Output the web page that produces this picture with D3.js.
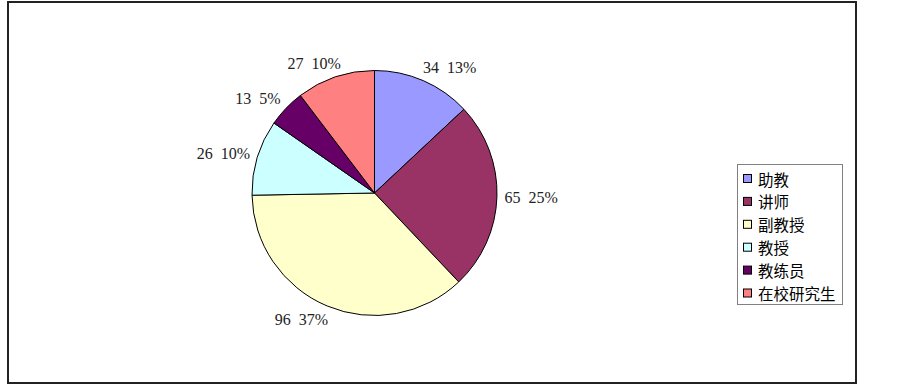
<!DOCTYPE html>
<html>
<head>
<meta charset="utf-8">
<script src="https://cdn.jsdelivr.net/npm/d3@7"></script>
<style>
  body { margin: 0; background: #fff; }
  svg { display: block; }
  text.lbl { white-space: pre; }
</style>
</head>
<body>
<div id="chart"></div>
<script>
// categories and values
var categories = ['助教', '讲师', '副教授', '教授', '教练员', '在校研究生'];
var counts = [34, 65, 96, 26, 13, 27];
var colors = ['#9999FF', '#993366', '#FFFFCC', '#CCFFFF', '#660066', '#FF8080'];

var width = 903,
    height = 386,
    cx = 374.5,
    cy = 193,
    radius = 122.5;

var svg = d3.select('#chart').append('svg')
    .attr('width', width)
    .attr('height', height);

// outer frame
svg.append('rect')
    .attr('x', 8).attr('y', 2)
    .attr('width', 848).attr('height', 381)
    .attr('fill', 'none')
    .attr('stroke', '#222')
    .attr('stroke-width', 2);

var total = d3.sum(counts);

var pie = d3.pie().sort(null).value(d => d);
var arcs = pie(counts);

var arc = d3.arc().innerRadius(0).outerRadius(radius);

var g = svg.append('g').attr('transform', 'translate(' + cx + ',' + cy + ')');

g.selectAll('path')
    .data(arcs)
    .enter()
    .append('path')
    .attr('d', arc)
    .attr('fill', (d, i) => colors[i])
    .attr('stroke', '#000')
    .attr('stroke-width', 1);

// labels outside the pie, box touching a point on the mid angle
var labelR = 130, lh = 14;
g.selectAll('text.lbl')
    .data(arcs)
    .enter()
    .append('text')
    .attr('class', 'lbl')
    .attr('font-family', '"Liberation Serif", serif')
    .attr('font-size', 16)
    .attr('fill', '#222')
    .attr('dominant-baseline', 'central')
    .text(d => d.data + '  ' + Math.round(d.data / total * 100) + '%')
    .each(function(d) {
      var a = (d.startAngle + d.endAngle) / 2;
      var s = Math.sin(a), c = Math.cos(a);
      var px = labelR * s, py = -labelR * c;
      var w = this.getComputedTextLength();
      var fx = Math.max(0, Math.min(1, 0.5 - 1.1 * s));
      var fy = (1 + c) / 2;
      d3.select(this)
        .attr('x', px - fx * w)
        .attr('y', py - fy * lh + lh / 2);
    });

// legend
var legend = svg.append('g');
legend.append('rect')
    .attr('x', 737.5).attr('y', 164.5)
    .attr('width', 105).attr('height', 140)
    .attr('fill', '#fff')
    .attr('stroke', '#808080');

var rowY = d3.scalePoint().domain(categories).range([178.5, 293]);

var items = legend.selectAll('g.item')
    .data(categories)
    .enter()
    .append('g')
    .attr('class', 'item')
    .attr('transform', d => 'translate(0,' + rowY(d) + ')');

items.append('rect')
    .attr('x', 743.5).attr('y', -4)
    .attr('width', 8).attr('height', 8)
    .attr('fill', (d, i) => colors[i])
    .attr('stroke', '#000');

items.append('text')
    .attr('x', 758)
    .attr('y', 0)
    .attr('dominant-baseline', 'central')
    .attr('font-family', '"Noto Sans CJK SC", sans-serif')
    .attr('font-size', 15.5)
    .attr('fill', '#000')
    .text(d => d);
</script>
</body>
</html>
